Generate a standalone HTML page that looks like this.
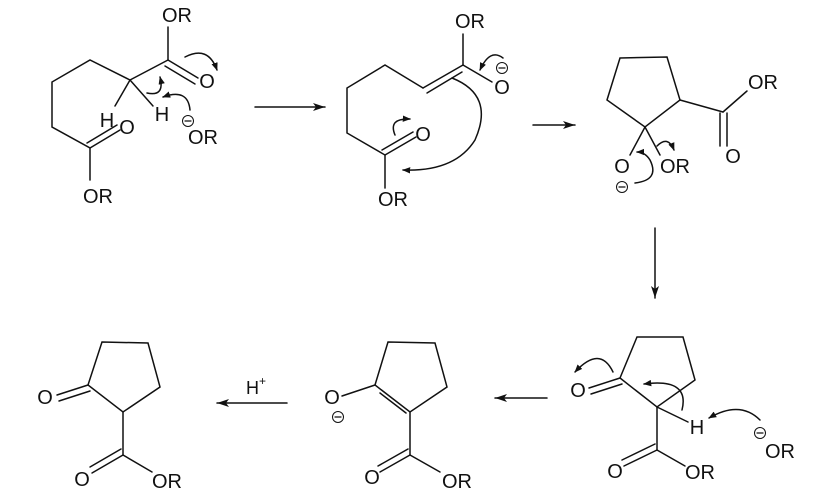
<!DOCTYPE html>
<html><head><meta charset="utf-8"><style>
html,body{margin:0;padding:0;background:#fff}
svg{display:block}
text{font-family:"Liberation Sans",Arial,sans-serif;font-size:20px;fill:#111}
</style></head><body>
<svg width="834" height="498" viewBox="0 0 834 498" xmlns="http://www.w3.org/2000/svg">
<defs>
<marker id="ah" viewBox="0 0 10 10" refX="9" refY="5" markerWidth="8" markerHeight="8" orient="auto-start-reverse" markerUnits="userSpaceOnUse"><path d="M0,1 L10,5 L0,9 z" fill="#111"/></marker>
<marker id="rh" viewBox="0 0 12 8" refX="12" refY="4" markerWidth="12" markerHeight="8" orient="auto" markerUnits="userSpaceOnUse"><path d="M0,0 L12,4 L0,8 L3,4 z" fill="#111"/></marker>
</defs>
<g stroke="#111" stroke-width="1.5" fill="none" stroke-linecap="round">
<polyline points="130,80 90,60 52,82 52,127 90,148 90,180"/>
<line x1="130" y1="80" x2="168" y2="60"/>
<line x1="168" y1="60" x2="168" y2="27"/>
<line x1="168" y1="60" x2="198" y2="78"/><line x1="165" y1="66" x2="195" y2="84"/>
<line x1="90" y1="148" x2="120" y2="130"/><line x1="87" y1="143" x2="117" y2="125"/>
<line x1="130" y1="80" x2="115" y2="106"/>
<line x1="130" y1="80" x2="153" y2="106"/>
<path d="M185,57 Q208,45 217,70" marker-end="url(#ah)"/>
<path d="M147,93 Q165,97 160,77" marker-end="url(#ah)"/>
<path d="M190,110 Q188,88 163,97" marker-end="url(#ah)"/>
<line x1="255" y1="107" x2="325" y2="107" marker-end="url(#rh)"/>
<polyline points="423,88 385,65 347,88 347,133 385,155 385,188"/>
<line x1="423" y1="88" x2="463" y2="65"/><line x1="427" y1="93" x2="462" y2="72"/>
<line x1="463" y1="65" x2="463" y2="34"/>
<line x1="463" y1="65" x2="492" y2="82"/>
<line x1="385" y1="155" x2="416" y2="137"/><line x1="382" y1="150" x2="413" y2="132"/>
<path d="M503,58 Q490,48 480,70" marker-end="url(#ah)"/>
<path d="M452,78 Q495,95 475,140 Q455,172 403,170" marker-end="url(#ah)"/>
<path d="M395,135 Q388,118 410,119" marker-end="url(#ah)"/>
<line x1="533" y1="125" x2="575" y2="125" marker-end="url(#rh)"/>
<polygon points="620,58 667,57 680,100 645,127 607,100"/>
<line x1="680" y1="100" x2="723" y2="112"/>
<line x1="723" y1="112" x2="747" y2="91"/>
<line x1="720" y1="113" x2="720" y2="146"/><line x1="727" y1="113" x2="727" y2="146"/>
<line x1="645" y1="127" x2="630" y2="155"/>
<line x1="645" y1="127" x2="660" y2="155"/>
<path d="M657,146 Q668,135 674,150" marker-end="url(#ah)"/>
<path d="M635,183 Q660,180 650,160 Q645,152 637,152" marker-end="url(#ah)"/>
<line x1="655" y1="228" x2="655" y2="298" marker-end="url(#rh)"/>
<polygon points="637,337 683,337 695,380 657,407 620,378"/>
<line x1="620" y1="378" x2="589" y2="388"/><line x1="622" y1="384" x2="591" y2="394"/>
<line x1="657" y1="407" x2="688" y2="422"/>
<line x1="657" y1="407" x2="657" y2="450"/>
<line x1="657" y1="450" x2="624" y2="466"/><line x1="655" y1="444" x2="622" y2="460"/>
<line x1="657" y1="450" x2="685" y2="466"/>
<path d="M613,372 Q600,345 575,372" marker-end="url(#ah)"/>
<path d="M682,410 Q690,378 644,384" marker-end="url(#ah)"/>
<path d="M760,420 Q740,400 709,418" marker-end="url(#ah)"/>
<line x1="547" y1="398" x2="495" y2="398" marker-end="url(#rh)"/>
<polygon points="388,342 435,343 447,387 410,412 375,385"/>
<line x1="380" y1="393" x2="406" y2="413"/>
<line x1="375" y1="385" x2="342" y2="396"/>
<line x1="410" y1="412" x2="410" y2="455"/>
<line x1="410" y1="455" x2="380" y2="472"/><line x1="408" y1="449" x2="378" y2="466"/>
<line x1="410" y1="455" x2="440" y2="472"/>
<line x1="287" y1="403" x2="217" y2="403" marker-end="url(#rh)"/>
<polygon points="102,342 148,343 160,387 123,412 88,385"/>
<line x1="88" y1="385" x2="57" y2="395"/><line x1="90" y1="391" x2="59" y2="401"/>
<line x1="123" y1="412" x2="123" y2="455"/>
<line x1="123" y1="455" x2="92" y2="473"/><line x1="121" y1="449" x2="90" y2="467"/>
<line x1="123" y1="455" x2="152" y2="472"/>
<circle cx="188" cy="121" r="5.5" stroke-width="1"/><line x1="185" y1="121" x2="191" y2="121" stroke-width="1.2"/>
<circle cx="502" cy="68" r="5.5" stroke-width="1"/><line x1="499" y1="68" x2="505" y2="68" stroke-width="1.2"/>
<circle cx="622" cy="187" r="5.5" stroke-width="1"/><line x1="619" y1="187" x2="625" y2="187" stroke-width="1.2"/>
<circle cx="760" cy="433" r="5.5" stroke-width="1"/><line x1="757" y1="433" x2="763" y2="433" stroke-width="1.2"/>
<circle cx="338" cy="417" r="5.5" stroke-width="1"/><line x1="335" y1="417" x2="341" y2="417" stroke-width="1.2"/>
</g>
<g text-anchor="middle" dominant-baseline="central">
<text x="177" y="16">OR</text>
<text x="207" y="82">O</text>
<text x="127" y="128">O</text>
<text x="98" y="197">OR</text>
<text x="107" y="121">H</text>
<text x="162" y="115">H</text>
<text x="203" y="138">OR</text>
<text x="470" y="22">OR</text>
<text x="502" y="88">O</text>
<text x="423" y="135">O</text>
<text x="393" y="200">OR</text>
<text x="763" y="83">OR</text>
<text x="733" y="157">O</text>
<text x="622" y="167">O</text>
<text x="675" y="167">OR</text>
<text x="578" y="391">O</text>
<text x="697" y="428">H</text>
<text x="615" y="472">O</text>
<text x="700" y="473">OR</text>
<text x="780" y="452">OR</text>
<text x="332" y="398">O</text>
<text x="372" y="478">O</text>
<text x="457" y="482">OR</text>
<text x="45" y="398">O</text>
<text x="82" y="480">O</text>
<text x="167" y="482">OR</text>
<text x="256" y="388" style="font-size:18px">H<tspan dy="-7" style="font-size:12px">+</tspan></text>
</g>
</svg>
</body></html>
